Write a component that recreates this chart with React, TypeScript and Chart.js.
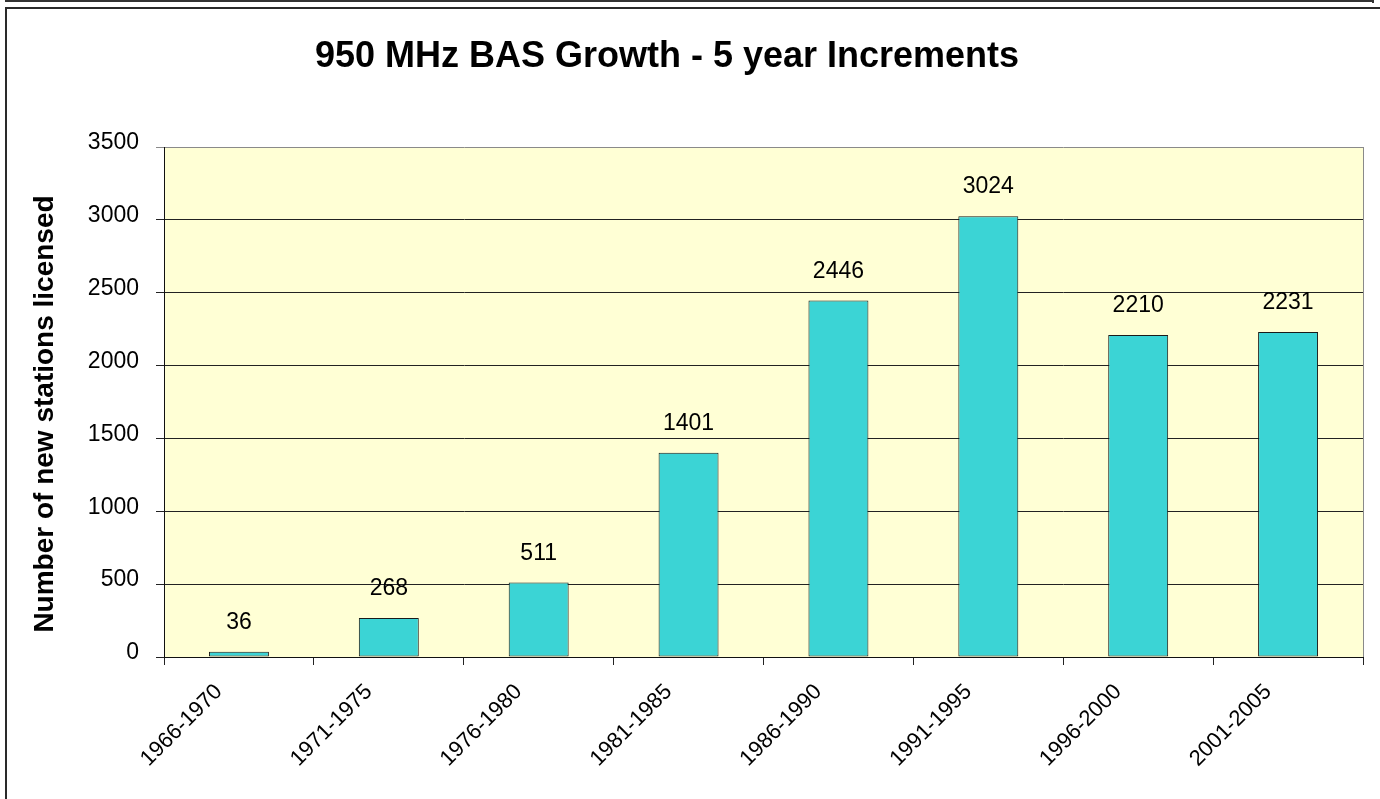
import React, { useEffect, useRef } from "react";
import { Chart, registerables } from "chart.js";

Chart.register(...registerables);

const chartTitle = "950 MHz BAS Growth - 5 year Increments";
const yAxisTitle = "Number of new stations licensed";
const categories = [
  "1966-1970",
  "1971-1975",
  "1976-1980",
  "1981-1985",
  "1986-1990",
  "1991-1995",
  "1996-2000",
  "2001-2005",
];
const newStations = [36, 268, 511, 1401, 2446, 3024, 2210, 2231];
const yTickValues = [0, 500, 1000, 1500, 2000, 2500, 3000, 3500];

const FONT = 'Arial, "Liberation Sans", Helvetica, sans-serif';
const PLOT_BG = "#FFFFD5";
const BAR_COLOR = "#3BD4D5";

const plotBackground = {
  id: "plotBackground",
  beforeDraw(chart: any) {
    const { ctx, chartArea: a } = chart;
    ctx.save();
    ctx.fillStyle = PLOT_BG;
    ctx.fillRect(a.left, a.top, a.right - a.left, a.bottom - a.top);
    ctx.strokeStyle = "#8a8a8a";
    ctx.lineWidth = 1;
    ctx.beginPath();
    ctx.moveTo(Math.round(a.right) + 0.5, a.top);
    ctx.lineTo(Math.round(a.right) + 0.5, a.bottom);
    ctx.stroke();
    ctx.restore();
  },
};

const valueLabels = {
  id: "valueLabels",
  afterDatasetsDraw(chart: any) {
    const { ctx } = chart;
    const meta = chart.getDatasetMeta(0);
    const data = chart.data.datasets[0].data as number[];
    ctx.save();
    ctx.font = `23px ${FONT}`;
    ctx.fillStyle = "#000";
    ctx.textAlign = "center";
    ctx.textBaseline = "alphabetic";
    meta.data.forEach((bar: any, i: number) => {
      ctx.fillText(String(data[i]), bar.x, bar.y - 23);
    });
    ctx.restore();
  },
};

const titles = {
  id: "titles",
  afterDraw(chart: any) {
    const { ctx, chartArea: a } = chart;
    ctx.save();
    ctx.fillStyle = "#000";
    ctx.font = `bold 36px ${FONT}`;
    ctx.textAlign = "center";
    ctx.textBaseline = "alphabetic";
    ctx.fillText(chartTitle, 667, 67);
    ctx.translate(53, (a.top + a.bottom) / 2 + 12);
    ctx.rotate(-Math.PI / 2);
    ctx.font = `bold 28px ${FONT}`;
    ctx.fillText(yAxisTitle, 0, 0);
    ctx.restore();
  },
};

export default function App() {
  const canvasRef = useRef<HTMLCanvasElement | null>(null);

  useEffect(() => {
    const canvas = canvasRef.current;
    if (!canvas) return;
    const chart = new Chart(canvas, {
      type: "bar",
      data: {
        labels: categories,
        datasets: [
          {
            data: newStations,
            backgroundColor: BAR_COLOR,
            borderColor: "#1a1a1a",
            borderWidth: 1,
            borderSkipped: false,
            barPercentage: 0.4,
            categoryPercentage: 1,
          },
        ],
      },
      options: {
        responsive: false,
        animation: false,
        events: [],
        layout: { padding: { left: 0, right: 17, top: 147, bottom: 0 } },
        plugins: {
          legend: { display: false },
          title: { display: false },
          tooltip: { enabled: false },
        },
        scales: {
          x: {
            afterFit(scale: any) {
              scale.height = 142;
            },
            grid: {
              display: true,
              offset: true,
              drawOnChartArea: false,
              drawTicks: true,
              tickLength: 8,
              color: "#222",
              lineWidth: 1,
            },
            border: { display: true, color: "#111", width: 1 },
            ticks: {
              autoSkip: false,
              minRotation: 45,
              maxRotation: 45,
              padding: 14,
              labelOffset: -20,
              color: "#000",
              font: { family: FONT, size: 22 },
            },
          },
          y: {
            min: yTickValues[0],
            max: yTickValues[yTickValues.length - 1],
            afterFit(scale: any) {
              scale.width = 164;
            },
            grid: {
              color: (c: any) =>
                c.tick && c.tick.value === yTickValues[yTickValues.length - 1] ? "#8a8a8a" : "#222",
              lineWidth: 1,
              tickLength: 8,
              drawTicks: true,
            },
            border: { display: true, color: "#111", width: 1 },
            ticks: {
              stepSize: yTickValues[1] - yTickValues[0],
              padding: 17,
              labelOffset: -4,
              color: "#000",
              font: { family: FONT, size: 23 },
              callback: (v: any) => String(v),
            },
          },
        },
      },
      plugins: [plotBackground, valueLabels, titles],
    });
    return () => chart.destroy();
  }, []);

  return (
    <div
      style={{
        position: "fixed",
        left: 0,
        top: 0,
        width: 1380,
        height: 799,
        overflow: "hidden",
        background: "#fff",
      }}
    >
      <div
        style={{
          position: "absolute",
          left: 5,
          top: 0,
          width: 1369,
          height: 2,
          background: "#333",
        }}
      />
      <div
        style={{
          position: "absolute",
          left: 1372,
          top: 0,
          width: 2,
          height: 3,
          background: "#333",
        }}
      />
      <div
        style={{
          position: "absolute",
          left: 5,
          top: 7,
          width: 1500,
          height: 900,
          borderLeft: "2px solid #2a2a2a",
          borderTop: "2px solid #2a2a2a",
        }}
      />
      <canvas
        ref={canvasRef}
        width={1380}
        height={799}
        style={{ position: "absolute", left: 0, top: 0, display: "block" }}
      />
    </div>
  );
}
